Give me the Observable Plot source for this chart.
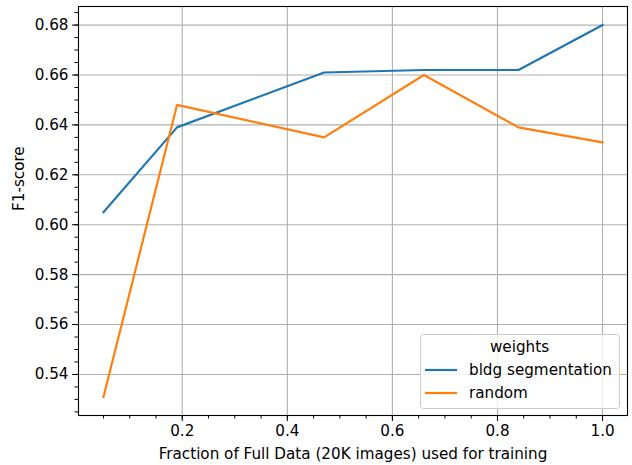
<!DOCTYPE html>
<html>
<head>
<meta charset="utf-8">
<script src="https://cdn.jsdelivr.net/npm/d3@7"></script>
<script src="https://cdn.jsdelivr.net/npm/@observablehq/plot@0.6"></script>
<style>
  html, body { margin: 0; padding: 0; background: #fff; }
  #chart { width: 632px; height: 465px; }
</style>
</head>
<body>
<div id="chart"></div>
<script>
// ---- data ----
const fractions = [0.05, 0.19, 0.47, 0.66, 0.84, 1.0];
const bldgSegmentation = [0.605, 0.639, 0.661, 0.662, 0.662, 0.680];
const randomInit = [0.531, 0.648, 0.635, 0.660, 0.639, 0.633];
const seriesNames = ["bldg segmentation", "random"];
const seriesColors = ["#1f77b4", "#ff7f0e"];
const xTicks = [0.2, 0.4, 0.6, 0.8, 1.0];
const yTicks = [0.54, 0.56, 0.58, 0.60, 0.62, 0.64, 0.66, 0.68];
const xMinor = d3.range(1, 21).map(i => +(i * 0.05).toFixed(2));
const yMinor = d3.range(105, 138).map(i => +(i * 0.005).toFixed(3));
const xLabel = "Fraction of Full Data (20K images) used for training";
const yLabel = "F1-score";
const legendTitle = "weights";

const rows = [];
seriesNames.forEach((name, s) => {
  const vals = s === 0 ? bldgSegmentation : randomInit;
  fractions.forEach((f, i) => rows.push({series: name, x: f, y: vals[i]}));
});

const xDomain = [0.0025, 1.0475];
const yDomain = [0.52355, 0.68745];
const FONT = "15.2px";

const chart = Plot.plot({
  width: 632,
  height: 465,
  marginLeft: 78,
  marginRight: 5,
  marginTop: 6,
  marginBottom: 50,
  style: {fontFamily: "DejaVu Sans", fontSize: FONT, background: "white", color: "#000"},
  x: {domain: xDomain},
  y: {domain: yDomain},
  color: {domain: seriesNames, range: seriesColors},
  marks: [
    Plot.gridX(xTicks, {stroke: "#b0b0b0", strokeOpacity: 1, strokeWidth: 1.1}),
    Plot.gridY(yTicks, {stroke: "#b0b0b0", strokeOpacity: 1, strokeWidth: 1.1}),
    Plot.line(rows, {x: "x", y: "y", z: "series", stroke: "series", strokeWidth: 2.2, strokeLinejoin: "miter", strokeLinecap: "square"}),
    Plot.axisX(xMinor, {tickSize: 3.5, text: null, label: null, strokeWidth: 1}),
    Plot.axisY(yMinor, {tickSize: 3.5, text: null, label: null, strokeWidth: 1}),
    Plot.axisX(xTicks, {tickSize: 6, tickPadding: 4, tickFormat: d3.format(".1f"), label: null, strokeWidth: 1, fontSize: FONT}),
    Plot.axisY(yTicks, {tickSize: 6, tickPadding: 4, tickFormat: d3.format(".2f"), label: null, strokeWidth: 1, fontSize: FONT}),
    Plot.frame({stroke: "#000", strokeWidth: 1.1}),
    Plot.text([xLabel], {frameAnchor: "bottom", dy: 39, text: d => d, lineAnchor: "middle", fill: "#000", fontSize: FONT}),
    Plot.text([yLabel], {frameAnchor: "left", dx: -59, rotate: -90, text: d => d, lineAnchor: "middle", fill: "#000", fontSize: FONT})
  ]
});

document.getElementById("chart").appendChild(chart);

// legend inside the axes (lower right), matplotlib style
const svg = d3.select(chart);
const lg = svg.append("g")
  .attr("font-family", "DejaVu Sans")
  .attr("font-size", FONT)
  .attr("text-anchor", "start");
const box = {x: 420, y: 334, w: 199, h: 74};
lg.append("rect")
  .attr("x", box.x + 0.5).attr("y", box.y + 0.5)
  .attr("width", box.w).attr("height", box.h)
  .attr("rx", 3)
  .attr("fill", "white").attr("fill-opacity", 0.8)
  .attr("stroke", "#cccccc").attr("stroke-width", 1);
lg.append("text")
  .attr("x", box.x + box.w / 2).attr("y", 347)
  .attr("text-anchor", "middle").attr("dy", "0.35em")
  .attr("fill", "#000")
  .text(legendTitle);
seriesNames.forEach((name, i) => {
  const y = 370 + i * 23;
  lg.append("line")
    .attr("x1", 425).attr("x2", 457).attr("y1", y).attr("y2", y)
    .attr("stroke", seriesColors[i]).attr("stroke-width", 2.2);
  lg.append("text")
    .attr("x", 469).attr("y", y).attr("dy", "0.35em")
    .attr("text-anchor", "start")
    .attr("fill", "#000")
    .text(name);
});
</script>
</body>
</html>
